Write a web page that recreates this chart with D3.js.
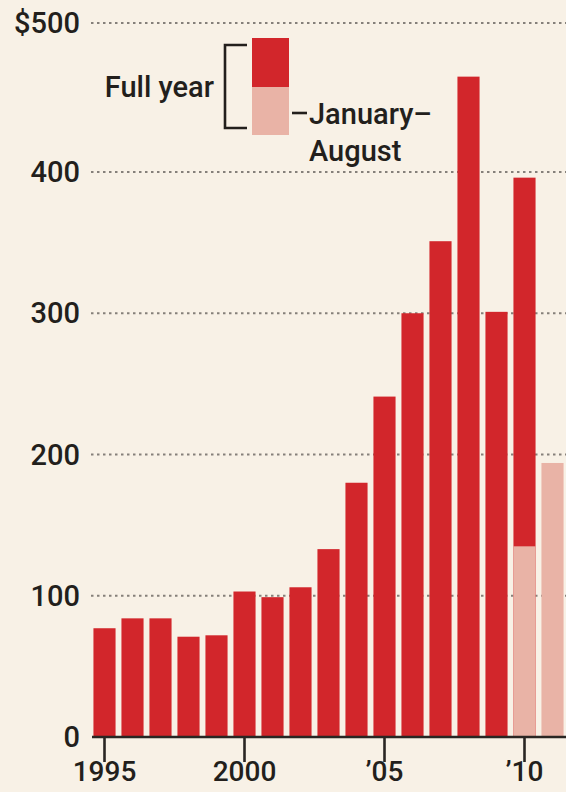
<!DOCTYPE html>
<html>
<head>
<meta charset="utf-8">
<script src="https://cdn.jsdelivr.net/npm/d3@7"></script>
<style>
  html, body { margin: 0; padding: 0; background: #f8f1e6; }
  svg { display: block; }
  text { font-family: Roboto, "Noto Sans", sans-serif; font-weight: 500; fill: #231f1c; }
</style>
</head>
<body>
<svg id="chart" width="566" height="792"></svg>
<script>
// ---- data ----
const years = [1995, 1996, 1997, 1998, 1999, 2000, 2001, 2002, 2003, 2004, 2005, 2006, 2007, 2008, 2009, 2010, 2011];
const fullYear = [77, 84, 84, 71, 72, 103, 99, 106, 133, 180, 241, 300, 351, 464, 301, 396, null];
const janAug  = [null, null, null, null, null, null, null, null, null, null, null, null, null, null, null, 135, 194];
const yTicks = [0, 100, 200, 300, 400, 500];
const yTickLabels = ["0", "100", "200", "300", "400", "$500"];
const xTicks = [1995, 2000, 2005, 2010];
const xTickLabels = ["1995", "2000", "\u201905", "\u201910"];
const legendLabels = ["Full year", "January\u2013", "August"];

const darkRed = "#d2262b";
const lightRed = "#e9b3a6";

const svg = d3.select("#chart");

const x = d3.scaleBand().domain(years).range([90.5, 566.5]).paddingInner(0.21).paddingOuter(0.105);
const y = d3.scaleLinear().domain([0, 400, 500]).range([737, 172, 23]);

// gridlines
svg.append("g").selectAll("line").data(yTicks.filter(d => d > 0)).join("line")
  .attr("x1", 91).attr("x2", 566)
  .attr("y1", d => y(d)).attr("y2", d => y(d))
  .attr("stroke", "#85807a").attr("stroke-width", 2.2)
  .attr("stroke-dasharray", "2.5,3.5");

// y labels
svg.append("g").selectAll("text").data(yTicks).join("text")
  .attr("x", 80).attr("y", d => y(d))
  .attr("dy", "0.35em")
  .attr("text-anchor", "end")
  .attr("font-size", 29)
  .text((d, i) => yTickLabels[i]);

// full-year bars
svg.append("g").selectAll("rect").data(years.map((yr, i) => ({yr, v: fullYear[i]})).filter(d => d.v != null)).join("rect")
  .attr("x", d => x(d.yr)).attr("width", x.bandwidth())
  .attr("y", d => y(d.v)).attr("height", d => y(0) - y(d.v))
  .attr("fill", darkRed);

// Jan-Aug bars
svg.append("g").selectAll("rect").data(years.map((yr, i) => ({yr, v: janAug[i]})).filter(d => d.v != null)).join("rect")
  .attr("x", d => x(d.yr)).attr("width", x.bandwidth())
  .attr("y", d => y(d.v)).attr("height", d => y(0) - y(d.v))
  .attr("fill", lightRed);

// x axis
const xAxis = d3.axisBottom(x).tickValues(xTicks).tickSize(25).tickPadding(0)
  .tickFormat((d) => xTickLabels[xTicks.indexOf(d)]);
const gx = svg.append("g").attr("transform", `translate(0,${y(0)})`).call(xAxis);
gx.select(".domain").remove();
gx.selectAll(".tick line").attr("stroke", "#2a2623").attr("stroke-width", 2.6);
gx.selectAll(".tick text").attr("font-size", 28).attr("font-family", "Roboto, sans-serif")
  .attr("font-weight", 500).attr("fill", "#231f1c").attr("y", 24).attr("dy", "0.71em");
svg.append("line").attr("x1", 92).attr("x2", 566).attr("y1", y(0)).attr("y2", y(0))
  .attr("stroke", "#2a2623").attr("stroke-width", 2.6);

// legend
const lg = svg.append("g");
lg.append("rect").attr("x", 252).attr("y", 38).attr("width", 37).attr("height", 49).attr("fill", darkRed);
lg.append("rect").attr("x", 252).attr("y", 87).attr("width", 37).attr("height", 48).attr("fill", lightRed);
lg.append("path").attr("d", "M247,45H225V128H247").attr("fill", "none")
  .attr("stroke", "#231f1c").attr("stroke-width", 2.6);
lg.append("line").attr("x1", 292).attr("x2", 307).attr("y1", 113).attr("y2", 113)
  .attr("stroke", "#231f1c").attr("stroke-width", 2.6);
lg.append("text").attr("x", 214).attr("y", 97).attr("text-anchor", "end").attr("font-size", 29).text(legendLabels[0]);
lg.append("text").attr("x", 309).attr("y", 124).attr("font-size", 29).text(legendLabels[1]);
lg.append("text").attr("x", 309).attr("y", 161).attr("font-size", 29).text(legendLabels[2]);
</script>
</body>
</html>
